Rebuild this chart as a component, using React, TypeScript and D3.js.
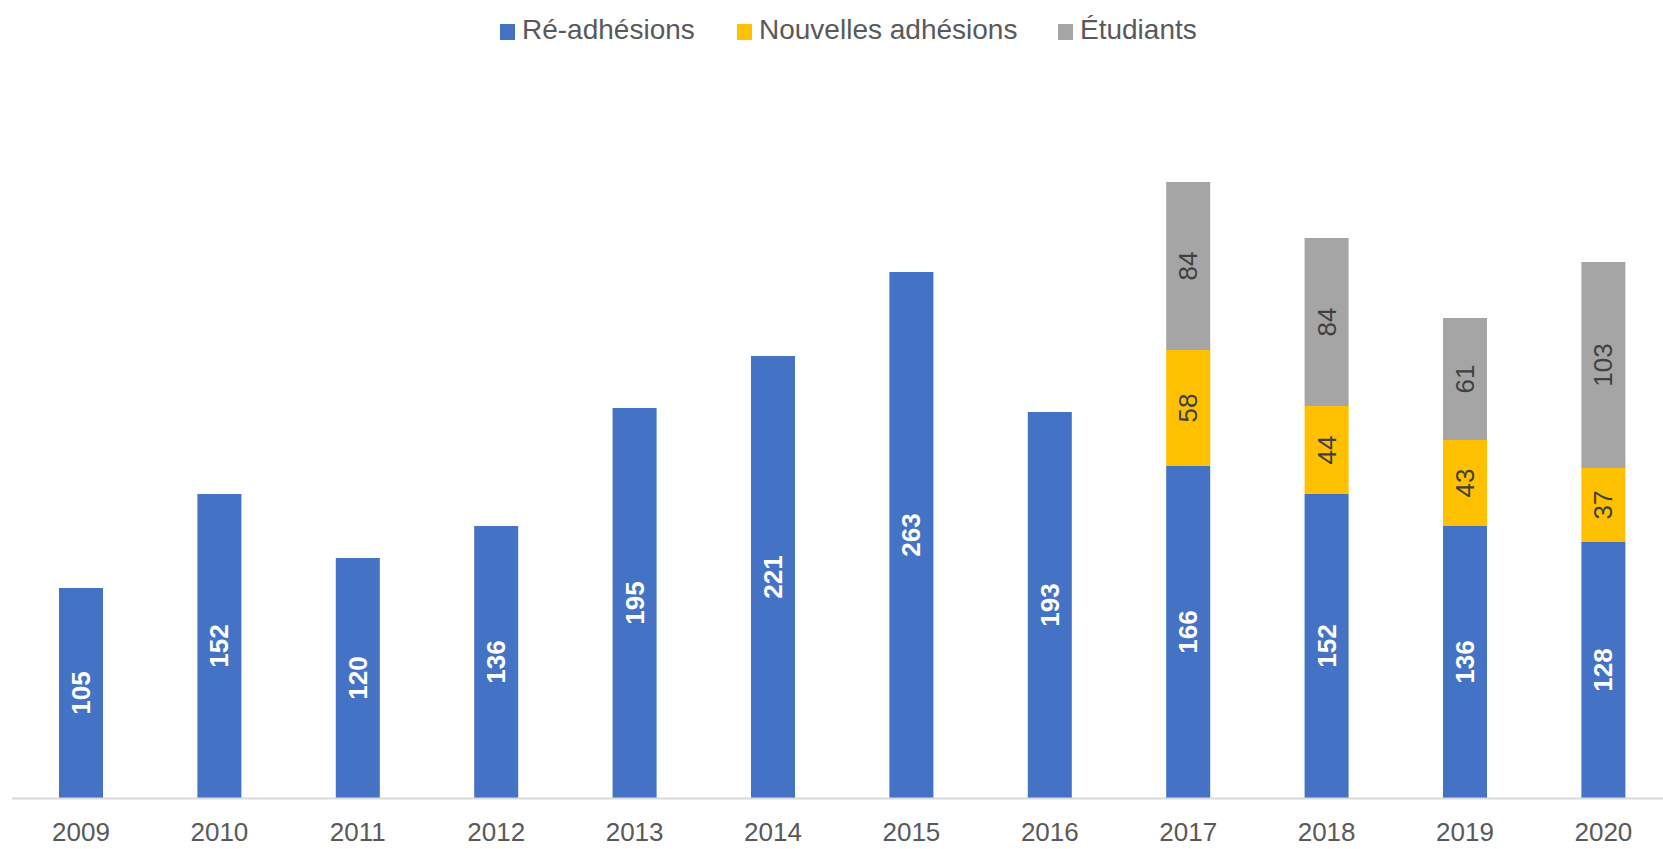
import React from "react";
import * as d3 from "d3";

const years = ["2009","2010","2011","2012","2013","2014","2015","2016","2017","2018","2019","2020"];
const readhesions = [105,152,120,136,195,221,263,193,166,152,136,128];
const nouvelles = [0,0,0,0,0,0,0,0,58,44,43,37];
const etudiants = [0,0,0,0,0,0,0,0,84,84,61,103];
const seriesNames = ["Ré-adhésions","Nouvelles adhésions","Étudiants"];
const seriesColors = ["#4472C4","#FFC000","#A5A5A5"];

const W = 1663, H = 849;
const FONT = "'Liberation Sans', Arial, sans-serif";

export default function App() {
  const x = d3.scaleBand<string>().domain(years).range([11.8, 1672.6]).paddingInner(0.682).paddingOuter(0.341);
  const y = d3.scaleLinear().domain([0, 350]).range([798, 98]);
  const rows = years.map((yr, i) => ({ year: yr, r: readhesions[i], n: nouvelles[i], e: etudiants[i] }));
  const stack = d3.stack<any>().keys(["r", "n", "e"])(rows);
  const labelColors = ["#FFFFFF", "#404040", "#404040"];
  const labelWeights = ["bold", "normal", "normal"];
  const legendX = [500, 737, 1058];

  return (
    <svg width={W} height={H} style={{ position: "absolute", left: 0, top: 0, display: "block", background: "#fff" }} fontFamily={FONT}>
      {stack.map((layer, si) => (
        <g key={si}>
          {layer.map((d, i) => {
            const v = d[1] - d[0];
            if (v <= 0) return null;
            const x0 = x(years[i])!;
            const bw = x.bandwidth();
            const top = y(d[1]);
            const h = y(d[0]) - y(d[1]);
            const cx = x0 + bw / 2;
            const cy = top + h / 2;
            return (
              <g key={i}>
                <rect x={x0} y={top} width={bw} height={h} fill={seriesColors[si]} />
                <text
                  transform={`translate(${cx},${cy}) rotate(-90)`}
                  textAnchor="middle"
                  dominantBaseline="central"
                  fontSize={26}
                  fontWeight={labelWeights[si]}
                  fill={labelColors[si]}
                >
                  {v}
                </text>
              </g>
            );
          })}
        </g>
      ))}
      <line x1={12} x2={1663} y1={y(0) + 0.5} y2={y(0) + 0.5} stroke="#D9D9D9" strokeWidth={2} />
      {years.map((yr) => (
        <text key={yr} x={x(yr)! + x.bandwidth() / 2} y={841} textAnchor="middle" fontSize={26} fill="#595959">
          {yr}
        </text>
      ))}
      {seriesNames.map((name, i) => (
        <g key={name}>
          <rect x={legendX[i]} y={24} width={15} height={16} fill={seriesColors[i]} />
          <text x={legendX[i] + 22} y={39} fontSize={28} fill="#595959">{name}</text>
        </g>
      ))}
    </svg>
  );
}
